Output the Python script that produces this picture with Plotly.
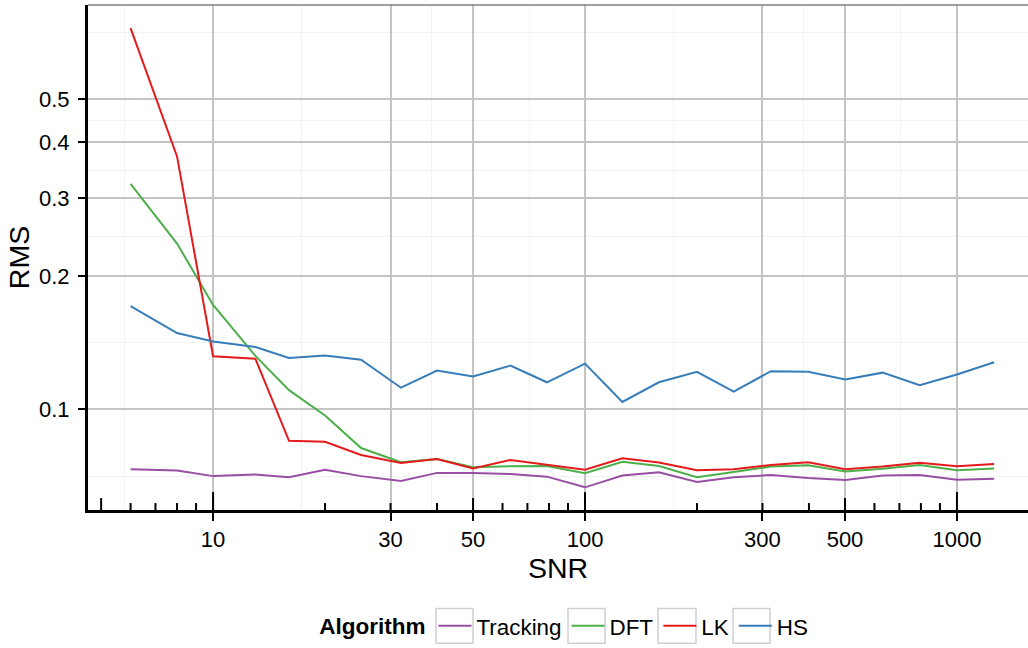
import math
import plotly.graph_objects as go

# SNR sample points (log-spaced) and RMS error per algorithm
snr = [6, 8, 10, 13, 16, 20, 25, 32, 40, 50, 63, 79, 100, 126, 158, 200,
       251, 316, 398, 501, 631, 794, 1000, 1259]

rms_tracking = [0.0733, 0.0728, 0.0707, 0.0713, 0.0703, 0.0731, 0.0707, 0.0689,
                0.0719, 0.0719, 0.0715, 0.0705, 0.0667, 0.0709, 0.0721, 0.0686,
                0.0703, 0.0711, 0.0700, 0.0693, 0.0709, 0.0711, 0.0694, 0.0697]
rms_dft = [0.3224, 0.2366, 0.1720, 0.1320, 0.1105, 0.0969, 0.0818, 0.0760,
           0.0773, 0.0740, 0.0744, 0.0745, 0.0718, 0.0762, 0.0745, 0.0703,
           0.0722, 0.0743, 0.0748, 0.0724, 0.0735, 0.0749, 0.0729, 0.0736]
rms_lk = [0.7240, 0.3720, 0.1318, 0.1300, 0.0849, 0.0845, 0.0789, 0.0757,
          0.0773, 0.0736, 0.0769, 0.0750, 0.0731, 0.0776, 0.0759, 0.0729,
          0.0733, 0.0749, 0.0760, 0.0733, 0.0743, 0.0758, 0.0744, 0.0753]
rms_hs = [0.1710, 0.1486, 0.1423, 0.1382, 0.1306, 0.1322, 0.1294, 0.1119,
          0.1223, 0.1186, 0.1255, 0.1151, 0.1268, 0.1039, 0.1151, 0.1215,
          0.1096, 0.1219, 0.1215, 0.1168, 0.1210, 0.1134, 0.1198, 0.1277]

algorithms = ["Tracking", "DFT", "LK", "HS"]
series = [rms_tracking, rms_dft, rms_lk, rms_hs]
colors = ["#984EA3", "#4DAF4A", "#E41A1C", "#377EB8"]

x_breaks = [10, 30, 50, 100, 300, 500, 1000]
y_breaks = [0.1, 0.2, 0.3, 0.4, 0.5]

x_range = [math.log10(4.61), 3.191]
y_range = [-1.227, -0.088]

# page geometry (px)
W, H = 1028, 648
ML, MR, MT, MB = 88, 0, 5, 135
PW, PH = W - ML - MR, H - MT - MB


def minor_breaks(breaks, lo, hi):
    """Midpoints between breaks in log space, extended one step each side."""
    b = [math.log10(v) for v in breaks]
    step = b[1] - b[0]
    if lo < b[0]:
        b = [b[0] - step] + b
    if hi > b[-1]:
        b = b + [b[-1] + step]
    mids = [(b[i] + b[i + 1]) / 2 for i in range(len(b) - 1)]
    return [10 ** m for m in mids if lo <= m <= hi]


fig = go.Figure()
for name, ys, col in zip(algorithms, series, colors):
    fig.add_trace(go.Scatter(x=snr, y=ys, mode="lines", name=name,
                             line=dict(color=col, width=2)))

FONT = "Liberation Sans, Arial, sans-serif"
GRID = "#C4C4C4"
MINOR = "#F2F2F2"

fig.update_layout(
    width=W, height=H,
    margin=dict(l=ML, r=MR, t=MT, b=MB),
    paper_bgcolor="white", plot_bgcolor="white",
    font=dict(family=FONT, color="black", size=22),
    showlegend=True,
    legend=dict(
        orientation="h", x=0.5077, xanchor="center", y=-0.2303,
        yanchor="middle", bgcolor="rgba(0,0,0,0)",
        title=dict(text="<b>Algorithm</b>", side="left", font=dict(size=22.5)),
        font=dict(size=22.4), itemwidth=33,
    ),
    xaxis=dict(
        type="log", range=x_range, tickvals=x_breaks,
        ticktext=[str(v) for v in x_breaks],
        ticks="outside", ticklen=8, tickwidth=2, tickcolor="black",
        showline=True, linecolor="black", linewidth=3,
        showgrid=True, gridcolor=GRID, gridwidth=1.5, zeroline=False,
        minor=dict(tickvals=minor_breaks(x_breaks, *x_range), showgrid=True,
                   gridcolor=MINOR, gridwidth=1),
        title=dict(text="SNR", font=dict(size=28.5), standoff=0),
        tickfont=dict(size=22),
    ),
    yaxis=dict(
        type="log", range=y_range, tickvals=y_breaks,
        ticktext=[str(v) for v in y_breaks],
        ticks="outside", ticklen=7, tickwidth=2, tickcolor="black",
        showline=True, linecolor="black", linewidth=3,
        showgrid=True, gridcolor=GRID, gridwidth=1.5, zeroline=False,
        minor=dict(tickvals=minor_breaks(y_breaks, *y_range), showgrid=True,
                   gridcolor=MINOR, gridwidth=1),
        title=dict(text="RMS", font=dict(size=28.5), standoff=2),
        tickfont=dict(size=22), ticklabelstandoff=4,
    ),
)

# log-tick marks along the bottom edge, inside the panel:
# long at each decade, medium at 5x, short at the other multiples
for decade in [1, 10, 100, 1000]:
    for k in range(2, 11):
        v = k * decade
        if not (x_range[0] <= math.log10(v) <= x_range[1]):
            continue
        length = 18 if k == 10 else (12 if k == 5 else 7)
        fig.add_shape(type="line", xref="x", yref="paper", x0=v, x1=v,
                      y0=0, y1=length / PH, line=dict(color="black", width=2))

# thin grey rule along the top of the panel
fig.add_shape(type="line", xref="paper", yref="paper", x0=0, x1=1, y0=1, y1=1,
              line=dict(color="#808080", width=1.5))

# framed legend keys
key_boxes_px = [(436, 473), (568, 605), (658, 696), (733, 770)]
key_top_px, key_bottom_px = 612, 647
for x0, x1 in key_boxes_px:
    fig.add_shape(type="rect", xref="paper", yref="paper",
                  x0=(x0 - ML) / PW, x1=(x1 - ML) / PW,
                  y0=(H - MB - key_bottom_px) / PH, y1=(H - MB - key_top_px) / PH,
                  line=dict(color="#CFCFCF", width=1.5), layer="above")

fig.write_html("out.html")
